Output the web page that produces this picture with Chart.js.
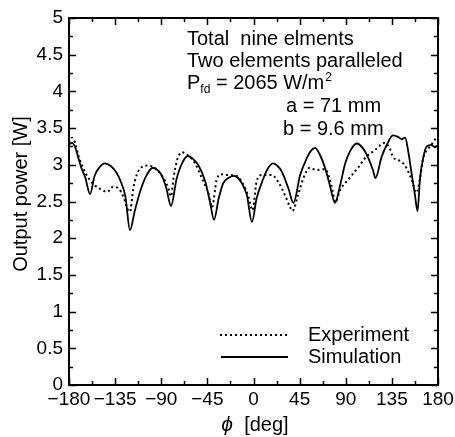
<!DOCTYPE html>
<html>
<head>
<meta charset="utf-8">
<script src="https://cdn.jsdelivr.net/npm/chart.js@4/dist/chart.umd.min.js"></script>
<style>
  html, body { margin: 0; padding: 0; background: #fff; }
  #wrap { width: 455px; height: 437px; }
</style>
</head>
<body>
<div id="wrap"><canvas id="c" width="455" height="437"></canvas></div>
<script>
// Simulation (solid line)
const simAngles = [-180, -177, -174, -171, -168, -164, -159.5, -155, -150, -145, -139, -134, -130, -125, -120.5,
  -116, -111, -105, -98, -93, -89, -85, -80.5, -75, -69, -64, -59, -54, -47, -42.5, -38.5,
  -34, -29.5, -24.5, -19, -15, -11.5, -6.5, -1.5, 3, 9.5, 14, 19, 23, 27.5, 34, 39,
  45.5, 52, 56, 60, 65, 70, 74.5, 79.5, 84.5, 89.5, 94, 100.5, 107, 112, 116.5, 119,
  125, 130, 136, 141, 144.5, 148, 151, 154.5, 157.5, 160, 162.5, 165.5, 169, 173.5, 177, 180];
const simPower = [3.28, 3.30, 3.24, 3.10, 2.96, 2.82, 2.60, 2.85, 2.97, 3.02, 2.98, 2.90, 2.79, 2.57, 2.11,
  2.36, 2.62, 2.84, 2.96, 2.92, 2.84, 2.68, 2.44, 2.81, 3.04, 3.12, 3.08, 3.00, 2.77, 2.50, 2.25,
  2.54, 2.75, 2.82, 2.85, 2.82, 2.75, 2.59, 2.22, 2.54, 2.81, 2.95, 3.02, 2.99, 2.91, 2.68, 2.48,
  2.86, 3.09, 3.19, 3.23, 3.13, 2.95, 2.72, 2.48, 2.72, 3.02, 3.18, 3.29, 3.22, 3.09, 2.93, 2.82,
  3.11, 3.27, 3.40, 3.38, 3.35, 3.37, 3.18, 2.86, 2.59, 2.37, 2.82, 3.09, 3.25, 3.27, 3.24, 3.27];

// Experiment (dotted line)
const expAngles = [-180, -177, -174, -171, -166, -161, -155, -148, -143, -137, -132, -127, -123, -120.5,
  -117.5, -114, -109, -103, -94, -88, -83, -80.5, -78, -75, -70, -64, -57, -50.5, -44, -40.5,
  -36, -31, -25, -17, -11.5, -5, -1, 3, 8, 18, 24, 30.5, 35.5, 38, 43.5, 48.5, 55, 61, 70, 76, 80,
  84.5, 89.5, 96, 102, 110, 118.5, 124, 128, 133, 136, 144.5, 149.5, 154.5, 159, 162.5, 165.5, 170.5, 175, 178.5, 180];
const expPower = [3.30, 3.37, 3.30, 3.13, 2.95, 2.82, 2.72, 2.66, 2.63, 2.70, 2.68, 2.57, 2.40, 2.36,
  2.66, 2.86, 2.97, 2.99, 2.93, 2.82, 2.68, 2.57, 2.82, 3.04, 3.17, 3.13, 3.02, 2.82, 2.61, 2.42,
  2.79, 2.87, 2.86, 2.85, 2.77, 2.57, 2.38, 2.77, 2.86, 2.86, 2.77, 2.59, 2.43, 2.37, 2.59, 2.81, 2.96, 2.93, 2.94, 2.72, 2.49,
  2.66, 2.75, 2.86, 2.96, 3.11, 3.20, 3.27, 3.30, 3.22, 3.11, 3.04, 2.95, 2.79, 2.62, 2.82, 3.09, 3.22, 3.30, 3.36, 3.35];

const xMajor = 45, xMinor = 22.5;
const yMajor = 0.5, yMinor = 0.25;

const FONT = "'Liberation Sans', Arial, sans-serif";

const pairs = (xs, ys) => xs.map((x, i) => ({ x, y: ys[i] }));
const minusLabel = v => (v < 0 ? '\u2212' + Math.abs(v) : String(v));
const plainLabel = v => String(+v.toFixed(2));

// cadres, petites graduations, textes
const decor = {
  id: 'decor',
  afterDraw(chart) {
    const { ctx, chartArea: a, scales: { x, y } } = chart;
    ctx.save();
    ctx.strokeStyle = '#000';
    ctx.lineWidth = 1.5;
    ctx.beginPath();
    for (let v = x.min; v <= x.max + 1e-9; v += xMinor) {
      const px = Math.round(x.getPixelForValue(v)) + 0.5;
      const len = Math.abs(v % xMajor) < 1e-9 ? 7 : 4;
      ctx.moveTo(px, a.bottom); ctx.lineTo(px, a.bottom - len);
      ctx.moveTo(px, a.top); ctx.lineTo(px, a.top + len);
    }
    for (let v = y.min; v <= y.max + 1e-9; v += yMinor) {
      const py = Math.round(y.getPixelForValue(v)) + 0.5;
      const len = Math.abs(v % yMajor) < 1e-9 ? 7 : 4;
      ctx.moveTo(a.left, py); ctx.lineTo(a.left + len, py);
      ctx.moveTo(a.right, py); ctx.lineTo(a.right - len, py);
    }
    ctx.stroke();
    ctx.lineWidth = 2;
    ctx.strokeRect(a.left, a.top, a.right - a.left, a.bottom - a.top);

    // titres des axes
    ctx.fillStyle = '#000';
    ctx.textBaseline = 'middle';
    ctx.font = '20px ' + FONT;
    ctx.save();
    ctx.translate(21, 194);
    ctx.rotate(-Math.PI / 2);
    ctx.textAlign = 'center';
    ctx.fillText('Output power [W]', 0, 0);
    ctx.restore();

    ctx.textAlign = 'left';
    ctx.font = 'italic 21px ' + FONT;
    const phiW = ctx.measureText('\u03d5').width;
    ctx.font = '20px ' + FONT;
    const restW = ctx.measureText('  [deg]').width;
    let tx = 255 - (phiW + restW) / 2;
    ctx.font = 'italic 21px ' + FONT;
    ctx.fillText('\u03d5', tx, 425);
    ctx.font = '20px ' + FONT;
    ctx.fillText('  [deg]', tx + phiW, 425);

    // annotations
    ctx.textBaseline = 'alphabetic';
    ctx.fillText('Total  nine elments', 187, 45);
    ctx.fillText('Two elements paralleled', 187, 67);
    let px = 187;
    ctx.fillText('P', px, 89); px += ctx.measureText('P').width;
    ctx.font = '12px ' + FONT;
    ctx.fillText('fd', px, 93); px += ctx.measureText('fd').width;
    ctx.font = '20px ' + FONT;
    ctx.fillText(' = 2065 W/m', px, 89); px += ctx.measureText(' = 2065 W/m').width;
    ctx.font = '12px ' + FONT;
    ctx.fillText('2', px + 1, 81);
    ctx.font = '20px ' + FONT;
    ctx.fillText('a = 71 mm', 286, 112);
    ctx.fillText('b = 9.6 mm', 283, 135);

    // légende
    ctx.lineWidth = 2;
    ctx.setLineDash([2, 3]);
    ctx.beginPath(); ctx.moveTo(220, 335); ctx.lineTo(288, 335); ctx.stroke();
    ctx.setLineDash([]);
    ctx.beginPath(); ctx.moveTo(221, 357); ctx.lineTo(288, 357); ctx.stroke();
    ctx.textBaseline = 'middle';
    ctx.fillText('Experiment', 308, 335);
    ctx.fillText('Simulation', 308, 357);
    ctx.restore();
  }
};

new Chart(document.getElementById('c'), {
  type: 'line',
  data: {
    datasets: [
      {
        label: 'Experiment',
        data: pairs(expAngles, expPower),
        borderColor: '#000',
        borderWidth: 2,
        borderDash: [2, 3],
        pointRadius: 0,
        cubicInterpolationMode: 'monotone',
      },
      {
        label: 'Simulation',
        data: pairs(simAngles, simPower),
        borderColor: '#000',
        borderWidth: 1.8,
        pointRadius: 0,
        cubicInterpolationMode: 'monotone',
      },
    ],
  },
  options: {
    responsive: false,
    animation: false,
    events: [],
    layout: { padding: { top: 18, right: 17, left: 0, bottom: 0 } },
    plugins: { legend: { display: false }, tooltip: { enabled: false } },
    scales: {
      x: {
        type: 'linear',
        min: -180, max: 180,
        grid: { display: false, drawTicks: false },
        border: { display: false },
        ticks: {
          stepSize: xMajor, autoSkip: false, maxRotation: 0, padding: 3,
          color: '#000', font: { family: FONT, size: 19 },
          callback: minusLabel,
        },
        afterFit(s) { s.height = 52; s.paddingLeft = 0; s.paddingRight = 0; },
      },
      y: {
        min: 0, max: 5,
        grid: { display: false, drawTicks: false },
        border: { display: false },
        ticks: {
          stepSize: yMajor, autoSkip: false, padding: 6,
          color: '#000', font: { family: FONT, size: 19 },
          callback: plainLabel,
        },
        afterFit(s) { s.width = 69; s.paddingTop = 0; s.paddingBottom = 0; },
      },
    },
  },
  plugins: [decor],
});
</script>
</body>
</html>
